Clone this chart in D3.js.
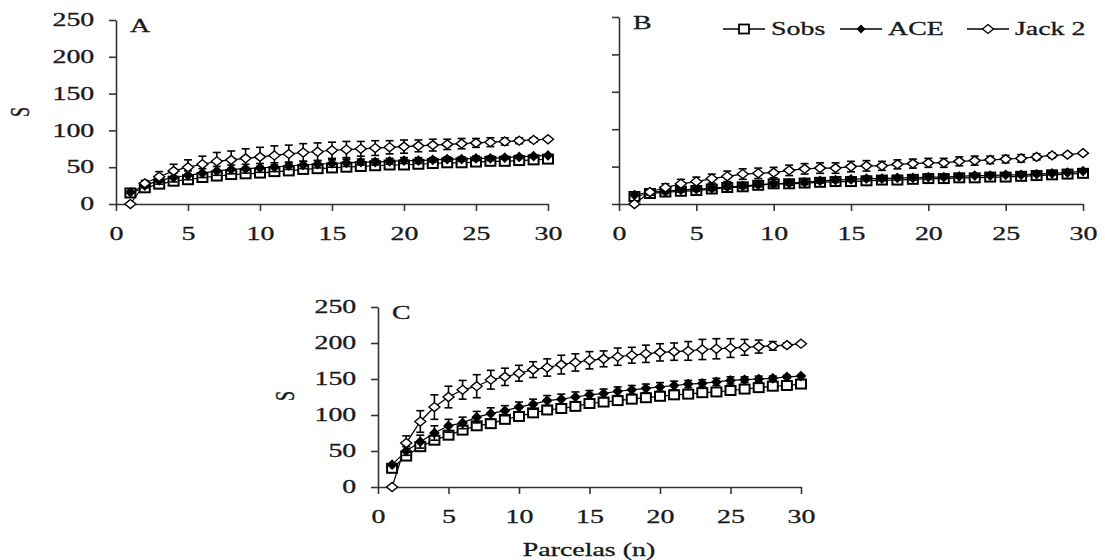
<!DOCTYPE html>
<html>
<head>
<meta charset="utf-8">
<script src="https://cdn.jsdelivr.net/npm/d3@7"></script>
<style>
  body { margin: 0; background: #fff; }
  svg text { font-family: "Liberation Serif", "Times New Roman", serif; fill: #1a1a1a; }
</style>
</head>
<body>
<svg id="chart" width="1105" height="560"></svg>
<script>
// sample units (x)
var parcelas = [1,2,3,4,5,6,7,8,9,10,11,12,13,14,15,16,17,18,19,20,21,22,23,24,25,26,27,28,29,30];
var xTicks = [0,5,10,15,20,25,30];
var yTicks = [0,50,100,150,200,250];

// panel A
var sobsA  = [15,22,27,31,33,36,38,40,41,42,44,45,47,48,49,50,51,52,53,53,54,55,56,56,57,58,58,59,60,61];
var aceA   = [16,25,32,36,39,42,45,47,48,49,50,52,53,54,55,56,57,57,58,59,59,60,61,61,62,62,63,64,65,66];
var jack2A = [0,28,37,45,50,54,58,60,62,64,66,68,70,71,73,74,75,76,77,78,79,80,81,82,83,84,85,86,87,88];
var aceErrA   = [0,3,5,6,6,6,6,6,6,6,6,5,5,5,5,5,4,4,4,4,4,3,3,3,3,3,2,2,2,0];
var jack2ErrA = [0,4,7,9,10,11,12,12,13,13,13,12,12,12,11,11,10,10,9,9,8,8,7,7,6,6,5,4,3,0];

// panel B
var sobsB  = [10,14,16,17,18,20,22,23,25,27,27,28,29,30,30,31,32,32,33,34,34,35,35,36,36,37,38,39,40,41];
var aceB   = [12,16,17,19,20,21,23,24,26,27,28,29,31,32,33,34,34,35,35,36,36,37,38,38,39,39,40,41,42,44];
var jack2B = [0,16,22,27,30,34,37,40,41,42,45,47,48,48,50,51,51,53,54,55,55,57,58,59,60,61,63,65,66,68];
var aceErrB   = [0,2,3,3,3,3,3,3,3,3,3,3,3,3,3,3,3,3,3,3,2,2,2,2,2,2,2,2,1,0];
var jack2ErrB = [0,4,5,6,6,6,7,7,7,7,7,7,7,7,7,7,6,6,6,6,6,6,6,5,5,5,4,3,2,0];

// panel C
var sobsC  = [26,43,56,65,72,79,85,88,94,98,103,107,109,112,116,118,120,122,124,126,128,129,131,132,134,136,138,140,141,143];
var aceC   = [31,50,63,75,85,89,97,102,106,111,115,120,122,125,128,130,133,135,137,139,141,143,144,146,148,149,150,151,153,154];
var jack2C = [0,61,91,111,125,135,140,149,153,158,163,166,170,173,176,178,181,183,185,187,188,189,191,192,193,194,195,196,197,199];
var aceErrC   = [0,6,9,10,9,8,8,8,7,7,7,7,7,7,6,6,6,6,6,6,6,5,5,5,5,4,4,3,2,0];
var jack2ErrC = [0,10,15,17,15,13,16,13,12,11,11,12,13,12,12,11,12,11,12,12,12,13,14,14,13,11,9,6,3,0];

var seriesNames = ['Sobs','ACE','Jack 2'];

var stretch = 'scale(1.55,1)';
var svg = d3.select('#chart');

var panels = [
  {label:'A', x:[116,548], y:[204,20], yLabels:true, sobs:sobsA, ace:aceA, jack:jack2A, aceErr:aceErrA, jackErr:jack2ErrA},
  {label:'B', x:[619,1083], y:[204,17], yLabels:false, sobs:sobsB, ace:aceB, jack:jack2B, aceErr:aceErrB, jackErr:jack2ErrB},
  {label:'C', x:[378,801], y:[487,307], yLabels:true, sobs:sobsC, ace:aceC, jack:jack2C, aceErr:aceErrC, jackErr:jack2ErrC}
];

function diamond(cx, cy, hw, hh){
  return 'M'+cx+','+(cy-hh)+'L'+(cx+hw)+','+cy+'L'+cx+','+(cy+hh)+'L'+(cx-hw)+','+cy+'Z';
}

panels.forEach(function(p){
  var xScale = d3.scaleLinear().domain([0,30]).range(p.x);
  var yScale = d3.scaleLinear().domain([0,250]).range(p.y);
  var g = svg.append('g');

  // axes
  var yAxis = d3.axisLeft(yScale).tickValues(yTicks).tickSize(7).tickSizeOuter(0).tickPadding(7);
  if(!p.yLabels) yAxis.tickFormat('');
  var ya = g.append('g').attr('transform','translate('+p.x[0]+',0)').call(yAxis);
  var xa = g.append('g').attr('transform','translate(0,'+p.y[0]+')')
    .call(d3.axisBottom(xScale).tickValues(xTicks).tickSize(7).tickSizeOuter(0).tickPadding(16));
  [ya, xa].forEach(function(a){
    a.selectAll('path, line').attr('stroke','#333').attr('stroke-width',1.6);
    a.selectAll('text').attr('font-size',18).attr('font-family','Liberation Serif').attr('fill','#1a1a1a')
      .attr('stroke','#1a1a1a').attr('stroke-width',0.3)
      .attr('transform',stretch);
  });

  // panel letter
  g.append('text').attr('transform','translate('+(p.x[0]+14)+','+(p.y[1]+12)+') '+stretch)
    .attr('font-size',18).attr('stroke','#1a1a1a').attr('stroke-width',0.3).text(p.label);

  var line = d3.line().x(function(d,i){ return xScale(parcelas[i]); }).y(function(d){ return yScale(d); });

  // error bars
  function errBars(vals, errs){
    var eb = g.append('g').attr('stroke','#000').attr('stroke-width',1.6);
    parcelas.forEach(function(n,i){
      if(!errs[i]) return;
      var cx = xScale(n), y1 = yScale(vals[i]+errs[i]), y2 = yScale(vals[i]-errs[i]);
      eb.append('line').attr('x1',cx).attr('x2',cx).attr('y1',y1).attr('y2',y2);
      eb.append('line').attr('x1',cx-4).attr('x2',cx+4).attr('y1',y1).attr('y2',y1);
      eb.append('line').attr('x1',cx-4).attr('x2',cx+4).attr('y1',y2).attr('y2',y2);
    });
  }

  [p.sobs, p.ace, p.jack].forEach(function(s){
    g.append('path').datum(s).attr('d',line).attr('fill','none').attr('stroke','#000').attr('stroke-width',1.2);
  });

  // Sobs open squares
  g.selectAll('.sobs').data(p.sobs).enter().append('rect')
    .attr('x',function(d,i){ return xScale(parcelas[i])-5; })
    .attr('y',function(d){ return yScale(d)-4.5; })
    .attr('width',10).attr('height',9)
    .attr('fill','#fff').attr('stroke','#000').attr('stroke-width',2);
  // ACE filled diamonds
  errBars(p.ace, p.aceErr);
  g.selectAll('.ace').data(p.ace).enter().append('path')
    .attr('d',function(d,i){ return diamond(xScale(parcelas[i]), yScale(d), 4.5, 4.5); })
    .attr('fill','#000').attr('stroke','#000').attr('stroke-width',1.2);
  // Jack 2 open diamonds
  errBars(p.jack, p.jackErr);
  g.selectAll('.jack').data(p.jack).enter().append('path')
    .attr('d',function(d,i){ return diamond(xScale(parcelas[i]), yScale(d), 5.5, 4.5); })
    .attr('fill','#fff').attr('stroke','#000').attr('stroke-width',1.4);
});

// y labels
[[19,112],[284,396]].forEach(function(pos){
  svg.append('text').attr('transform','translate('+pos[0]+','+pos[1]+') '+stretch+' rotate(-90)')
    .attr('text-anchor','middle').attr('dy','0.35em').attr('font-size',18)
    .attr('stroke','#1a1a1a').attr('stroke-width',0.3).text('S');
});

// x label
svg.append('text').attr('transform','translate(589,556) '+stretch)
  .attr('text-anchor','middle').attr('font-size',18)
  .attr('stroke','#1a1a1a').attr('stroke-width',0.3).text('Parcelas (n)');

// legend
var legX = [723, 840, 967];
var legend = svg.append('g');
seriesNames.forEach(function(name,i){
  var lx = legX[i], ly = 29;
  legend.append('line').attr('x1',lx).attr('x2',lx+42).attr('y1',ly).attr('y2',ly)
    .attr('stroke','#000').attr('stroke-width',1.5);
  var cx = lx+21;
  if(i==0){
    legend.append('rect').attr('x',cx-5).attr('y',ly-4.5).attr('width',10).attr('height',9)
      .attr('fill','#fff').attr('stroke','#000').attr('stroke-width',1.8);
  } else if(i==1){
    legend.append('path').attr('d',diamond(cx,ly,4.5,4.5)).attr('fill','#000');
  } else {
    legend.append('path').attr('d',diamond(cx,ly,5.5,4.5)).attr('fill','#fff').attr('stroke','#000').attr('stroke-width',1.3);
  }
  legend.append('text').attr('transform','translate('+(lx+48)+','+(ly+6)+') '+stretch)
    .attr('font-size',18).attr('stroke','#1a1a1a').attr('stroke-width',0.3).text(name);
});
</script>
</body>
</html>
